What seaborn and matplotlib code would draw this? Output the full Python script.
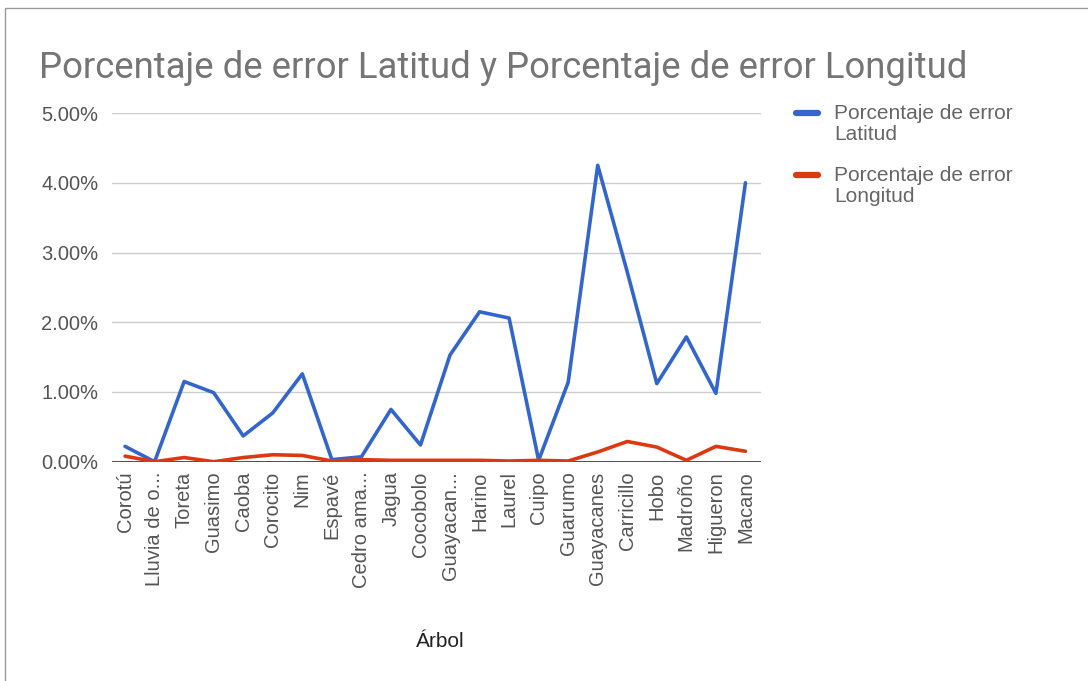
import seaborn as sns
import matplotlib.pyplot as plt
import matplotlib.ticker as mticker
import pandas as pd

arboles = [
    "Corotú", "Lluvia de o...", "Toreta", "Guasimo", "Caoba", "Corocito",
    "Nim", "Espavé", "Cedro ama...", "Jagua", "Cocobolo", "Guayacan...",
    "Harino", "Laurel", "Cuipo", "Guarumo", "Guayacanes", "Carricillo",
    "Hobo", "Madroño", "Higueron", "Macano",
]
error_latitud = [
    0.22, 0.00, 1.15, 0.99, 0.37, 0.70, 1.26, 0.03, 0.07, 0.75, 0.24, 1.53,
    2.15, 2.06, 0.02, 1.14, 4.25, 2.72, 1.12, 1.79, 0.98, 4.00,
]
error_longitud = [
    0.08, 0.00, 0.06, 0.00, 0.06, 0.10, 0.09, 0.01, 0.03, 0.02, 0.02, 0.02,
    0.02, 0.01, 0.02, 0.01, 0.14, 0.29, 0.21, 0.02, 0.22, 0.15,
]
series = ["Porcentaje de error\nLatitud", "Porcentaje de error\nLongitud"]
colores = ["#3366cc", "#dc3912"]

df = pd.DataFrame({
    "Árbol": arboles * 2,
    "pos": list(range(len(arboles))) * 2,
    "valor": [v / 100 for v in error_latitud + error_longitud],
    "serie": [series[0]] * len(arboles) + [series[1]] * len(arboles),
})

sns.set_style("white")
plt.rcParams["font.family"] = ["Liberation Sans", "DejaVu Sans"]

fig = plt.figure(figsize=(10.88, 6.81), dpi=100)
ax = fig.add_axes([0.103, 0.322, 0.596, 0.512])

sns.lineplot(
    data=df, x="pos", y="valor", hue="serie", palette=colores,
    linewidth=2.6, ax=ax, legend=False, sort=False,
)

ax.set_ylim(0, 0.05)
ax.set_xlim(-0.44, len(arboles) - 1 + 0.51)
ax.yaxis.set_major_locator(mticker.MultipleLocator(0.01))
ax.yaxis.set_major_formatter(mticker.FuncFormatter(lambda v, p: f"{v * 100:.2f}%"))
ax.set_xticks(range(len(arboles)))
ax.set_xticklabels(arboles, rotation=90, fontsize=14.5, color="#555555")
ax.tick_params(axis="y", labelsize=14.5, labelcolor="#555555", length=0, pad=10)
ax.tick_params(axis="x", length=0, pad=7)
ax.grid(axis="y", color="#cccccc", linewidth=1)
ax.axhline(0, color="#333333", linewidth=1.2, zorder=1)
for s in ax.spines.values():
    s.set_visible(False)
ax.set_ylabel("")
ax.set_xlabel("")

fig.text(0.405, 0.05, "Árbol", fontsize=15, color="#222222", ha="center")
fig.text(0.036, 0.885, "Porcentaje de error Latitud y Porcentaje de error Longitud",
         fontsize=26.3, color="#757575", family=["Roboto", "DejaVu Sans"])

# leyenda a la derecha
for i, (nombre, c) in enumerate(zip(series, colores)):
    y = 1 - 113 / 681 - i * 0.091
    fig.add_artist(plt.Line2D([0.732, 0.752], [y, y], color=c, linewidth=4.5,
                              transform=fig.transFigure))
    fig.text(0.767, y + 0.013, nombre, fontsize=15, color="#666666",
             va="top", linespacing=1.15)

# marco de la captura
fig.add_artist(plt.Line2D([0.005, 0.005, 1.0], [0.0, 0.988, 0.988],
                          color="#999999", linewidth=1, transform=fig.transFigure))

fig.savefig("out.png", dpi=100)
